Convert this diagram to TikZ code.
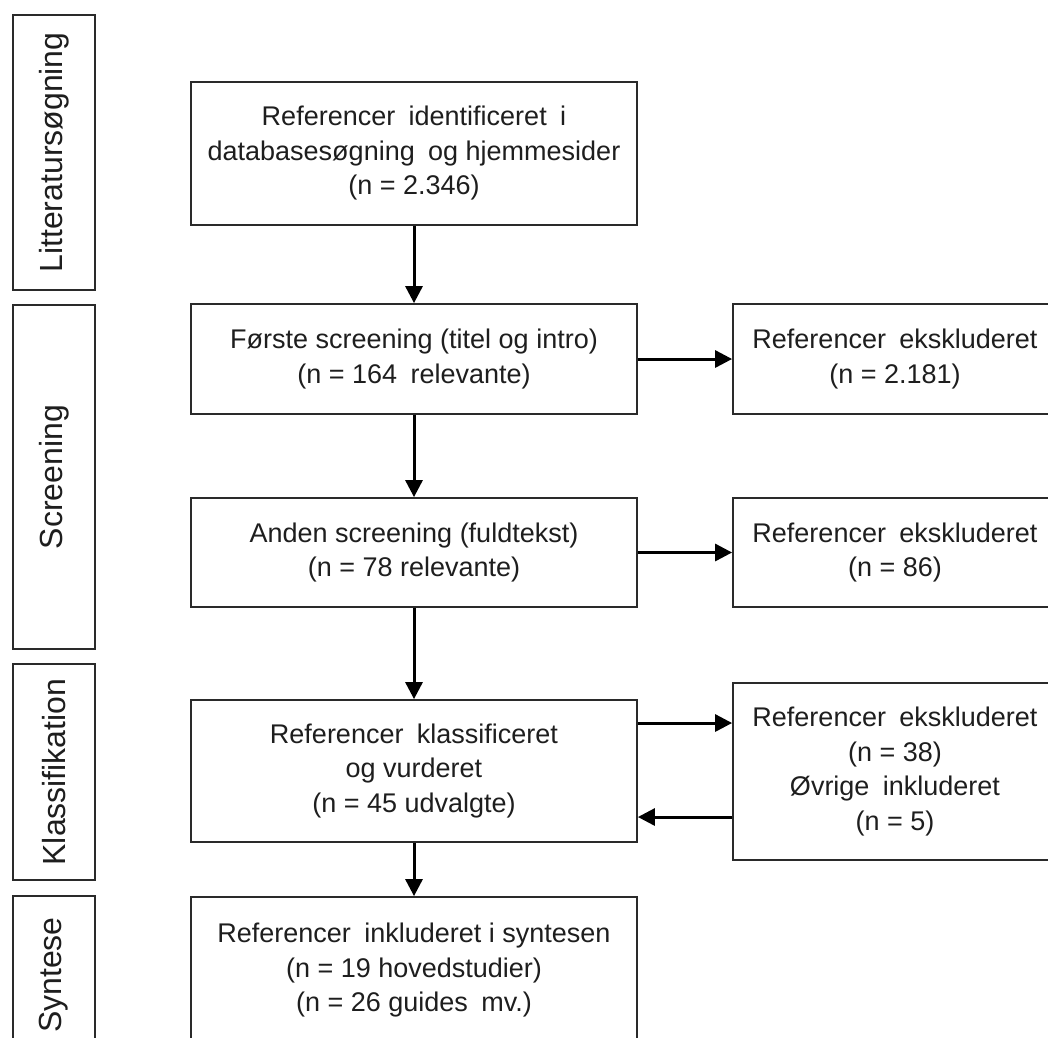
\documentclass[tikz,border=0pt]{standalone}
\usepackage{fontspec}
\setmainfont{Liberation Sans}
\usetikzlibrary{arrows.meta}
\definecolor{txt}{HTML}{1E1E1E}
\definecolor{bord}{HTML}{2A2A2A}
\newcommand{\ws}{\hspace{0.22em}}
\begin{document}
\begin{tikzpicture}[x=1pt,y=-1pt,
  box/.style={draw=bord, line width=1.8pt, rectangle, inner sep=0pt, align=center,
    text=txt, font=\fontsize{27}{34.5}\selectfont},
  phase/.style={draw=bord, line width=1.8pt, rectangle, inner sep=0pt, text=txt,
    font=\fontsize{32}{38}\selectfont, minimum width=82pt},
  arr/.style={line width=3pt, draw=black, -{Triangle[length=17pt,width=17pt]}}
]
\useasboundingbox (0,0) rectangle (1048,1037);
\clip (0,0) rectangle (1048,1037);
\fill[white] (0,0) rectangle (1048,1037);

% phase labels
\node[phase, minimum height=275pt] (L1) at (54,152.5) {};
\node[rotate=90, text=txt, font=\fontsize{32}{38}\selectfont] (L1t) at (L1.center) {Litteratursøgning};
\node[phase, minimum height=344pt] (L2) at (54,477) {};
\node[rotate=90, text=txt, font=\fontsize{32}{38}\selectfont] (L2t) at (L2.center) {Screening};
\node[phase, minimum height=216pt] (L3) at (54,772) {};
\node[rotate=90, text=txt, font=\fontsize{32}{38}\selectfont] (L3t) at (L3.center) {Klassifikation};
\node[phase, minimum height=158pt] (L4) at (54,975) {};
\node[rotate=90, text=txt, font=\fontsize{32}{38}\selectfont] (L4t) at (L4.center) {Syntese};

% main column
\node[box, minimum width=446pt, minimum height=143pt] (B1) at (414,153.5)
  {Referencer\ws{} identificeret\ws{} i\\databasesøgning\ws{} og hjemmesider\\(n = 2.346)};
\node[box, minimum width=446pt, minimum height=110pt] (B2) at (414,359)
  {Første screening (titel og intro)\\(n = 164\ws{} relevante)};
\node[box, minimum width=446pt, minimum height=109pt] (B3) at (414,552.5)
  {Anden screening (fuldtekst)\\(n = 78 relevante)};
\node[box, minimum width=446pt, minimum height=142pt] (B4) at (414,771)
  {Referencer\ws{} klassificeret\\og vurderet\\(n = 45 udvalgte)};
\node[box, minimum width=446pt, minimum height=146pt] (B5) at (414,970)
  {Referencer\ws{} inkluderet i syntesen\\(n = 19 hovedstudier)\\(n = 26 guides\ws{} mv.)};

% right column
\node[box, minimum width=324pt, minimum height=110pt] (R1) at (895,359)
  {Referencer\ws{} ekskluderet\\(n = 2.181)};
\node[box, minimum width=324pt, minimum height=109pt] (R2) at (895,552.5)
  {Referencer\ws{} ekskluderet\\(n = 86)};
\node[box, minimum width=324pt, minimum height=177pt] (R3) at (895,771.5)
  {Referencer\ws{} ekskluderet\\(n = 38)\\Øvrige\ws{} inkluderet\\(n = 5)};

% connectors
\draw[arr] (B1.south) -- (B2.north);
\draw[arr] (B2.south) -- (B3.north);
\draw[arr] (B3.south) -- (B4.north);
\draw[arr] (B4.south) -- (B5.north);
\draw[arr] (B2.east) -- (R1.west);
\draw[arr] (B3.east) -- (R2.west);
\draw[arr] ([yshift=48pt]B4.east) -- ([yshift=48pt]B4.east -| R3.west);
\draw[arr] ([yshift=-46pt]B4.east -| R3.west) -- ([yshift=-46pt]B4.east);
\end{tikzpicture}
\end{document}
